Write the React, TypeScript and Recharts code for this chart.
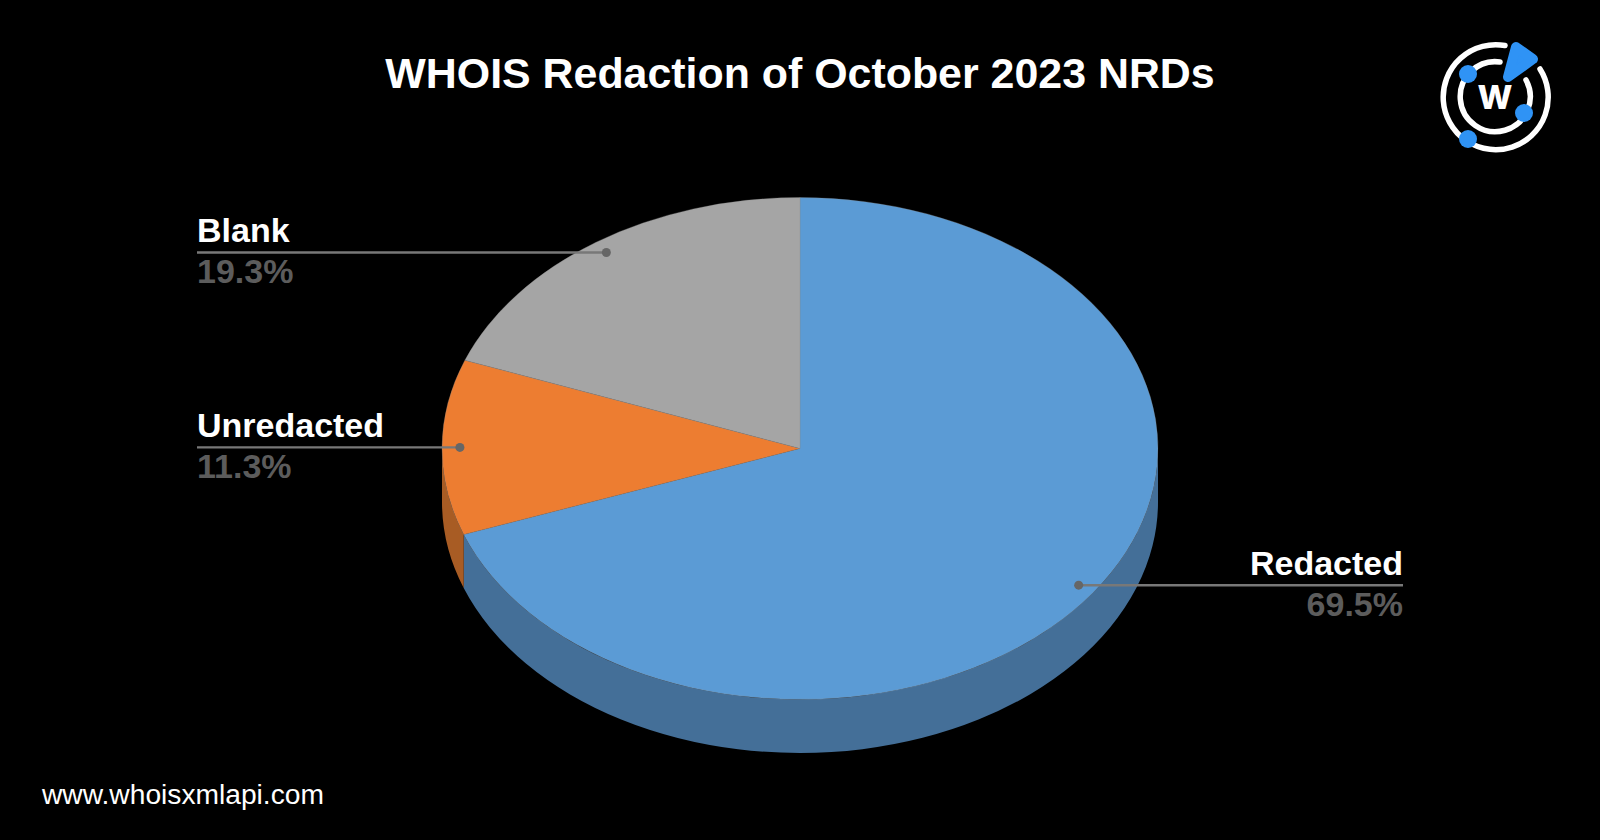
import { Pie, PieChart } from 'recharts';

const categories = ['Redacted', 'Unredacted', 'Blank'];
const shares = [69.5, 11.3, 19.3];
const topColors = ['#5b9bd5', '#ed7d31', '#a5a5a5'];
const wallColors = ['#446f98', '#a85c24', '#757575'];

const slices = categories.map((name, i) => ({ name, value: shares[i] }));

const CX = 800;
const CY = 448.5;
const RX = 358;
// the pie is tilted, so y is squashed
const TILT = 251 / 358;
const DEPTH = 53.5;
const LABEL_LEFT = 197;
const LABEL_RIGHT = 1403;
const DOT_RADIUS = 0.95;
const FONT = '"Liberation Sans", Arial, sans-serif';

const RAD = Math.PI / 180;
const px = (cx: number, r: number, a: number) => cx + r * Math.cos(a * RAD);
const py = (cy: number, r: number, a: number) => cy - r * TILT * Math.sin(a * RAD);

// top face of a slice, as an elliptical sector
const TopSlice = (props: any) => {
  const { cx, cy, outerRadius: r, startAngle, endAngle, index } = props;
  const large = Math.abs(startAngle - endAngle) > 180 ? 1 : 0;
  const d = `M${cx} ${cy} L${px(cx, r, startAngle)} ${py(cy, r, startAngle)} A${r} ${r * TILT} 0 ${large} 1 ${px(cx, r, endAngle)} ${py(cy, r, endAngle)} Z`;
  return <path d={d} fill={topColors[index]} stroke="#8a8a8a" strokeWidth={0.3} />;
};

// side wall, only the part of the rim that faces the viewer
const WallSlice = (props: any) => {
  const { cx, cy, outerRadius: r, startAngle, endAngle, index } = props;
  const from = Math.min(startAngle, 0);
  const to = Math.max(endAngle, -180);
  if (from <= to) return <g />;
  const ry = r * TILT;
  const x1 = px(cx, r, from);
  const y1 = py(cy, r, from);
  const x2 = px(cx, r, to);
  const y2 = py(cy, r, to);
  const d = `M${x1} ${y1} A${r} ${ry} 0 0 1 ${x2} ${y2} L${x2} ${y2 + DEPTH} A${r} ${ry} 0 0 0 ${x1} ${y1 + DEPTH} Z`;
  return <path d={d} fill={wallColors[index]} />;
};

const SliceLabel = (props: any) => {
  const { cx, cy, outerRadius, midAngle, name, value } = props;
  const dotX = px(cx, outerRadius * DOT_RADIUS, midAngle);
  const dotY = py(cy, outerRadius * DOT_RADIUS, midAngle);
  const left = dotX < cx;
  const x = left ? LABEL_LEFT : LABEL_RIGHT;
  const anchor = left ? 'start' : 'end';
  return (
    <g fontFamily={FONT} fontSize={34} fontWeight="bold" textAnchor={anchor}>
      <line x1={x} y1={dotY} x2={dotX} y2={dotY} stroke="#787878" strokeWidth={2.4} />
      <circle cx={dotX} cy={dotY} r={4.5} fill="#666666" />
      <text x={x} y={dotY - 10.5} fill="#ffffff">{name}</text>
      <text x={x} y={dotY + 30.5} fill="#5c5c5c">{`${value}%`}</text>
    </g>
  );
};

const Logo = () => (
  <g>
    <g fill="none" stroke="#ffffff" strokeWidth={5.5} strokeLinecap="round">
      <path d="M1505 45.5 A52.5 52.5 0 1 0 1540 69" />
      <path d="M1500 62 A35 35 0 1 0 1526 80" />
    </g>
    <path
      d="M1516 47 L1533 59 L1508 77 Z"
      fill="#2f93f5"
      stroke="#2f93f5"
      strokeWidth={10}
      strokeLinejoin="round"
    />
    <circle cx={1468} cy={74} r={9} fill="#2f93f5" />
    <circle cx={1524} cy={113} r={9} fill="#2f93f5" />
    <circle cx={1468} cy={139} r={9} fill="#2f93f5" />
    <text x={1495} y={109} textAnchor="middle" fontFamily="Inter, sans-serif" fontWeight={800} fontSize={33} fill="#ffffff">
      W
    </text>
  </g>
);

const App = () => (
  <div style={{ position: 'absolute', left: 0, top: 0, width: 1600, height: 840, background: '#000' }}>
    <PieChart width={1600} height={840} margin={{ top: 0, right: 0, bottom: 0, left: 0 }}>
      <text x={800} y={87.5} textAnchor="middle" fontFamily={FONT} fontWeight="bold" fontSize={42.9} fill="#ffffff">
        WHOIS Redaction of October 2023 NRDs
      </text>
      <Pie
        data={slices}
        dataKey="value"
        cx={CX}
        cy={CY}
        innerRadius={0}
        outerRadius={RX}
        startAngle={90}
        endAngle={-270}
        paddingAngle={0}
        shape={WallSlice}
        isAnimationActive={false}
      />
      <Pie
        data={slices}
        dataKey="value"
        cx={CX}
        cy={CY}
        innerRadius={0}
        outerRadius={RX}
        startAngle={90}
        endAngle={-270}
        paddingAngle={0}
        shape={TopSlice}
        label={SliceLabel}
        labelLine={false}
        isAnimationActive={false}
      />
      <text x={42} y={804} fontFamily={FONT} fontSize={28.2} fill="#ffffff">
        www.whoisxmlapi.com
      </text>
      <Logo />
    </PieChart>
  </div>
);

export default App;
